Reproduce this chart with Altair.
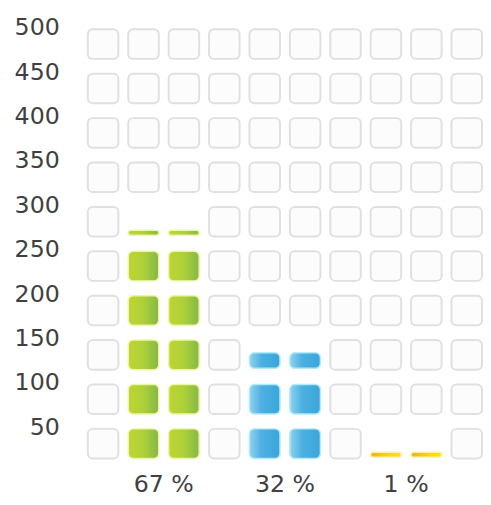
import altair as alt
import pandas as pd

# ---- data ----
categories = ["67 %", "32 %", "1 %"]
values = [272, 134, 22]
columns = [[1, 2], [4, 5], [7, 8]]          # which grid columns each category occupies
y_ticks = [50, 100, 150, 200, 250, 300, 350, 400, 450, 500]
n_cols = 10
n_rows = 10
step = 50

# ---- cell geometry (in data units of each slot) ----
X_IN0, X_IN1 = 5 / 41, 36 / 41
Y_TOP, Y_BOT = 48.3, 15.0

occupied = set()
for v, cols in zip(values, columns):
    for c in cols:
        for r in range(n_rows):
            if v > r * step + Y_BOT + 1.5:
                occupied.add((c, r))

grid = pd.DataFrame(
    [
        {"x": c + X_IN0, "x2": c + X_IN1, "y": r * step + Y_TOP, "y2": r * step + Y_BOT}
        for c in range(n_cols)
        for r in range(n_rows)
        if (c, r) not in occupied
    ]
)


def filled_cells(value, cols):
    rows = []
    for c in cols:
        for r in range(n_rows):
            top = r * step + Y_TOP
            bot = r * step + Y_BOT
            if value >= top:
                rows.append({"x": c + X_IN0, "x2": c + X_IN1, "y": top, "y2": bot})
            elif value > bot + 1.5:
                rows.append({"x": c + X_IN0, "x2": c + X_IN1, "y": value, "y2": bot + 1.5})
    return pd.DataFrame(rows)


gradients = [
    alt.Gradient(gradient="linear", x1=0, x2=1, y1=0, y2=0,
                 stops=[alt.GradientStop(offset=0, color="#c0d531"),
                        alt.GradientStop(offset=0.5, color="#add03a"),
                        alt.GradientStop(offset=1, color="#84b846")]),
    alt.Gradient(gradient="linear", x1=0, x2=1, y1=0, y2=0,
                 stops=[alt.GradientStop(offset=0, color="#90d2ef"),
                        alt.GradientStop(offset=0.4, color="#4cb0e1"),
                        alt.GradientStop(offset=1, color="#3aa6da")]),
    alt.Gradient(gradient="linear", x1=0, x2=1, y1=0, y2=0,
                 stops=[alt.GradientStop(offset=0, color="#f0ae25"),
                        alt.GradientStop(offset=0.6, color="#fcd70d"),
                        alt.GradientStop(offset=1, color="#ffe400")]),
]
halos = ["#eef6a6", "#b3ebf9", "#fff1a3"]

xscale = alt.Scale(domain=[0, 406 / 41], nice=False, zero=False)
yscale = alt.Scale(domain=[0, 500], nice=False, zero=True)
yaxis = alt.Axis(
    values=y_ticks, domain=False, ticks=False, grid=False,
    labelFontSize=24, labelColor="#404040", labelFont="DejaVu Sans",
    labelPadding=24, labelFlush=False, labelOverlap=False, title=None,
)

base_grid = alt.Chart(grid).mark_rect(
    fill="#fcfcfd", stroke="#e0e0e2", strokeWidth=2, cornerRadius=5
).encode(
    x=alt.X("x:Q", scale=xscale, axis=None),
    x2="x2:Q",
    y=alt.Y("y:Q", scale=yscale, axis=yaxis),
    y2="y2:Q",
)

layers = [base_grid]
for v, cols, g, h in zip(values, columns, gradients, halos):
    layers.append(
        alt.Chart(filled_cells(v, cols)).mark_rect(
            fill=g, stroke=h, strokeWidth=1.5, cornerRadius=5
        ).encode(
            x=alt.X("x:Q", scale=xscale, axis=None),
            x2="x2:Q",
            y=alt.Y("y:Q", scale=yscale, axis=yaxis),
            y2="y2:Q",
        )
    )

labels = pd.DataFrame(
    {"label": categories, "cx": [sum(c) / len(c) + 0.5 for c in columns]}
)
layers.append(
    alt.Chart(labels).mark_text(
        font="DejaVu Sans", fontSize=24, color="#404040", baseline="alphabetic", align="center"
    ).encode(
        x=alt.X("cx:Q", scale=xscale, axis=None),
        y=alt.value(471.5),
        text="label:N",
    )
)

chart = alt.layer(*layers).properties(
    width=406,
    height=450.5,
    autosize=alt.AutoSizeParams(type="none"),
    padding={"left": 76, "top": 16.5, "right": 0, "bottom": 22},
    background="white",
).configure_view(stroke=None)

chart.save("out.html", embed_options={"renderer": "svg", "actions": False})
